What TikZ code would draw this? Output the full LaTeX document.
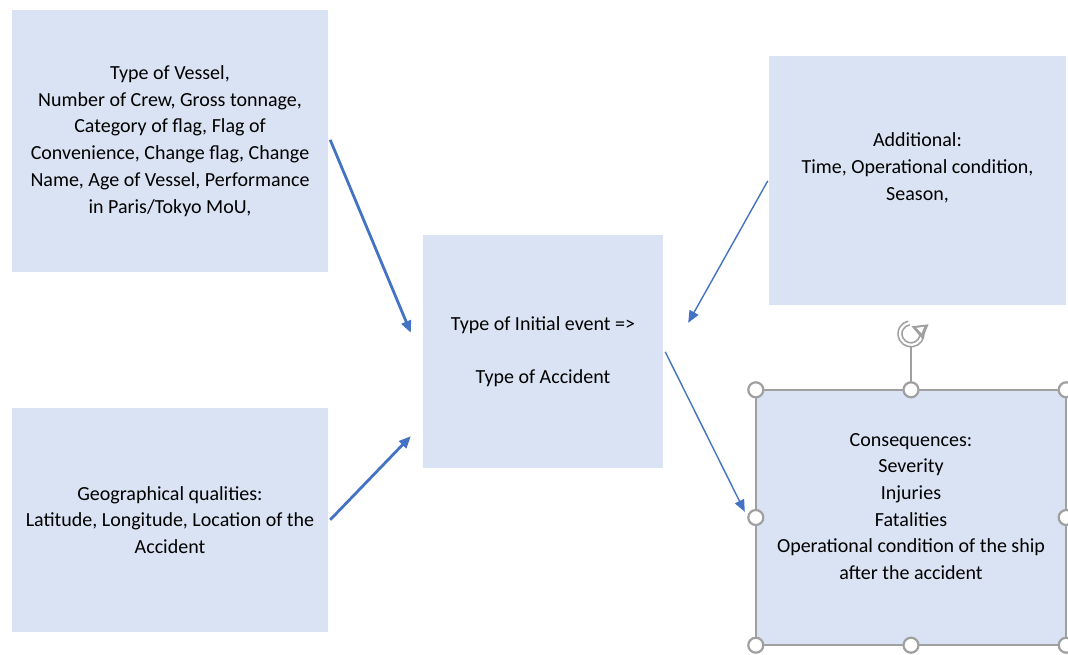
\documentclass[tikz,border=0pt]{standalone}
\usepackage{fontspec}
\setmainfont{Carlito}
\usetikzlibrary{calc,arrows.meta}
\definecolor{boxfill}{HTML}{DAE3F3}
\definecolor{arrowblue}{HTML}{4472C4}
\definecolor{handlegray}{HTML}{A0A0A0}
\tikzset{
  box/.style={fill=boxfill, draw=none, inner sep=0pt},
  txt/.style={align=center, font=\fontsize{20}{26.7}\selectfont, text=black, inner sep=0pt},
  flow/.style={draw=arrowblue, -{Triangle[length=12pt,width=10pt]}},
  heavy/.style={flow, line width=2.8pt},
  light/.style={flow, line width=1.4pt},
  handle/.style={circle, fill=white, draw=handlegray, line width=2.2pt, minimum size=15pt, inner sep=0pt},
}
\begin{document}
\begin{tikzpicture}[x=1pt,y=-1pt]
\useasboundingbox (0,0) rectangle (1068,654);
\fill[white] (0,0) rectangle (1068,654);

% boxes
\node[box, minimum width=316pt, minimum height=262pt] (vessel) at (170,141) {};
\node[box, minimum width=316pt, minimum height=224pt] (geo) at (170,520) {};
\node[box, minimum width=240pt, minimum height=233pt] (event) at (543,351.5) {};
\node[box, minimum width=297pt, minimum height=249pt] (add) at (917.5,180.5) {};
\node[box, minimum width=310pt, minimum height=255pt] (cons) at (911,517.5) {};

% texts
\node[txt] (vesseltxt) at (vessel) {Type of Vessel,\\Number of Crew, Gross tonnage,\\Category of flag, Flag of\\Convenience, Change flag, Change\\Name, Age of Vessel, Performance\\in Paris/Tokyo MoU,};
\node[txt] (geotxt) at (geo) {Geographical qualities:\\Latitude, Longitude, Location of the\\Accident};
\node[txt] (eventtxt) at (event) {Type of Initial event =>\\[26.7pt]Type of Accident};
\node[txt] (addtxt) at ($(add)+(0,-12.5)$) {Additional:\\Time, Operational condition,\\Season,};
\node[txt] (constxt) at ($(cons)+(0,-11)$) {Consequences:\\Severity\\Injuries\\Fatalities\\Operational condition of the ship\\after the accident};

% connector end points
\coordinate (v1) at ($(vessel.north east)+(2,130)$);
\coordinate (v2) at ($(event.north west)+(-12,98)$);
\coordinate (g1) at ($(geo.north east)+(2,112)$);
\coordinate (g2) at ($(event.south west)+(-12,-32)$);
\coordinate (a1) at ($(add.north west)+(-1,125)$);
\coordinate (a2) at ($(event.north east)+(25,88)$);
\coordinate (e1) at ($(event.north east)+(2,117)$);
\coordinate (e2) at ($(cons.north west)+(-11,122)$);

% connectors
\draw[heavy] (v1) -- (v2);
\draw[heavy] (g1) -- (g2);
\draw[light] (a1) -- (a2);
\draw[light] (e1) -- (e2);

% selection frame with handles
\draw[handlegray, line width=1.6pt] (cons.north west) rectangle (cons.south east);
\coordinate (rot) at ($(cons.north)+(0,-56)$);
\draw[handlegray, line width=1.6pt] (cons.north) -- ($(rot)+(0,13)$);
\foreach \a in {north west,north,north east,west,east,south west,south,south east}
  \node[handle] at (cons.\a) {};
% rotation handle
\draw[handlegray, line width=5.5pt] ($(rot)+(-30:11)$) arc (-30:260:11);
\draw[white, line width=2.2pt] ($(rot)+(-30:11)$) arc (-30:260:11);
\fill[handlegray] ($(rot)+(-30:11)+(8,-4)$) -- ($(rot)+(-30:11)+(-9,-2)$) -- ($(rot)+(-30:11)+(2,11)$) -- cycle;
\fill[white] ($(rot)+(-30:11)+(3.5,-1.5)$) -- ($(rot)+(-30:11)+(-4,-0.5)$) -- ($(rot)+(-30:11)+(1,5)$) -- cycle;
\end{tikzpicture}
\end{document}
